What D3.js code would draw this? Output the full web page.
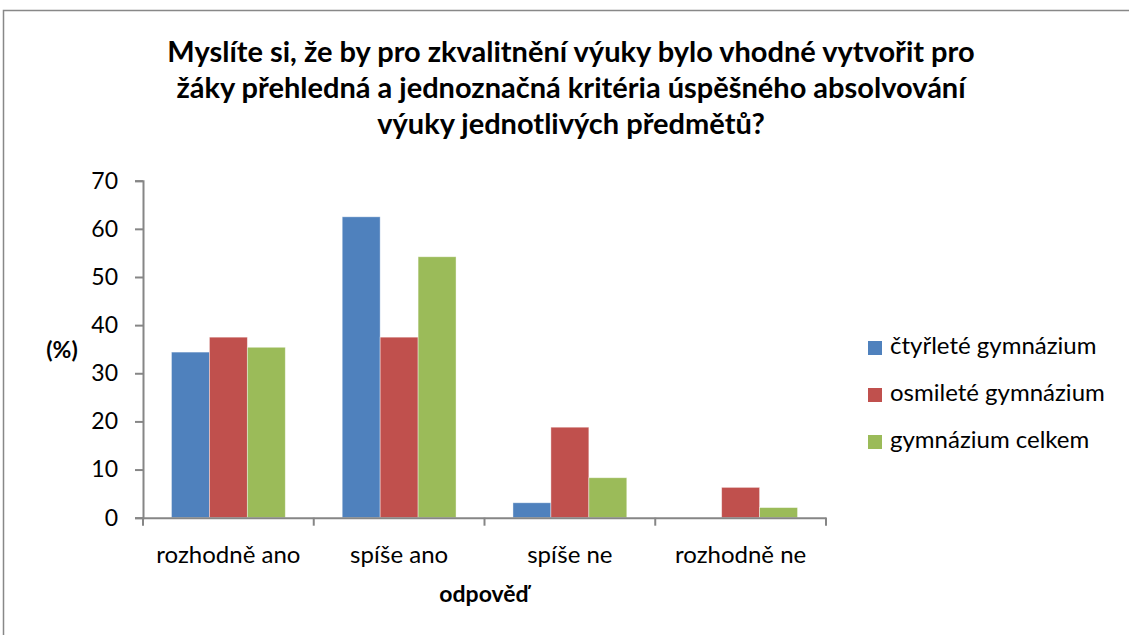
<!DOCTYPE html>
<html><head><meta charset="utf-8">
<script src="https://cdn.jsdelivr.net/npm/d3@7"></script>
<style>body{margin:0;background:#fff}svg{display:block}text{font-family:Lato,"Open Sans",sans-serif}</style>
</head><body>
<svg id="c" width="1129" height="635"></svg>
<script>
const categories = ["rozhodně ano","spíše ano","spíše ne","rozhodně ne"];
const seriesNames = ["čtyřleté gymnázium","osmileté gymnázium","gymnázium celkem"];
const seriesColors = ["#4F81BD","#C0504D","#9BBB59"];
const ctyrlete = [34.4, 62.5, 3.1, 0];
const osmilete = [37.5, 37.5, 18.8, 6.3];
const celkem = [35.4, 54.2, 8.3, 2.1];
const yTicks = [0,10,20,30,40,50,60,70];
const titleLines = ["Myslíte si, že by pro zkvalitnění výuky bylo vhodné vytvořit pro","žáky přehledná a jednoznačná kritéria úspěšného absolvování","výuky jednotlivých předmětů?"];
const series = [ctyrlete, osmilete, celkem];

const svg = d3.select("#c");
svg.append("rect").attr("x",3.5).attr("y",10.5).attr("width",1140).attr("height",640)
  .attr("fill","#fff").attr("stroke","#888").attr("stroke-width",1.5);

const L=143, R=826, T=180.7, B=517.7;
const x = d3.scaleBand().domain(categories).range([L,R]).paddingInner(0).paddingOuter(0);
const barW = x.bandwidth()/4.5;
const y = d3.scaleLinear().domain([0,70]).range([B,T]);

// title
svg.append("text").attr("x",571).attr("y",62).attr("text-anchor","middle")
  .style("font-weight","bold").style("font-size","29px").attr("fill","#000")
  .selectAll("tspan").data(titleLines).join("tspan")
  .attr("x",571).attr("dy",(d,i)=>i===0?0:36).text(d=>d);

// bars
series.forEach((vals,si)=>{
  svg.append("g").selectAll("rect").data(categories).join("rect")
    .attr("x",c=>x(c)+barW*0.75+si*barW)
    .attr("width",barW)
    .attr("y",(c,i)=>y(vals[i]))
    .attr("height",(c,i)=>B-y(vals[i]))
    .attr("fill",seriesColors[si])
    .attr("stroke","rgba(255,255,255,0.5)").attr("stroke-width",0.8);
});

// y axis
const ya = svg.append("g").attr("transform",`translate(${L},0)`)
  .call(d3.axisLeft(y).tickValues(yTicks).tickSize(8).tickPadding(17));
ya.select(".domain").attr("stroke","#868686").attr("stroke-width",2);
ya.selectAll(".tick line").attr("stroke","#868686").attr("stroke-width",2);
ya.selectAll(".tick text").style("font-size","23px").style("font-family","Lato,'Open Sans',sans-serif").attr("fill","#000");

// x axis
const xa = svg.append("g").attr("transform",`translate(0,${B})`)
  .call(d3.axisBottom(x).tickSize(0).tickPadding(28));
xa.select(".domain").attr("stroke","#868686").attr("stroke-width",2);
xa.selectAll(".tick text").style("font-size","24px").style("font-family","Lato,'Open Sans',sans-serif").attr("fill","#000");
const edges = categories.map(c=>x(c)).concat([R]);
xa.selectAll(".sep").data(edges).join("line").attr("class","sep")
  .attr("x1",d=>d).attr("x2",d=>d).attr("y1",0).attr("y2",8)
  .attr("stroke","#868686").attr("stroke-width",2);

// axis titles
svg.append("text").attr("x",484).attr("y",602).attr("text-anchor","middle")
  .style("font-weight","bold").style("font-size","23px").text("odpověď");
svg.append("text").attr("x",62).attr("y",358).attr("text-anchor","middle")
  .style("font-weight","bold").style("font-size","23px").text("(%)");

// legend
const lg = svg.append("g");
const legendBase = [354, 401, 448];
seriesNames.forEach((n,i)=>{
  const yy = legendBase[i];
  lg.append("rect").attr("x",868).attr("y",yy-13).attr("width",14).attr("height",14).attr("fill",seriesColors[i]);
  lg.append("text").attr("x",890).attr("y",yy).style("font-size","24px").text(n);
});
</script>
</body></html>
